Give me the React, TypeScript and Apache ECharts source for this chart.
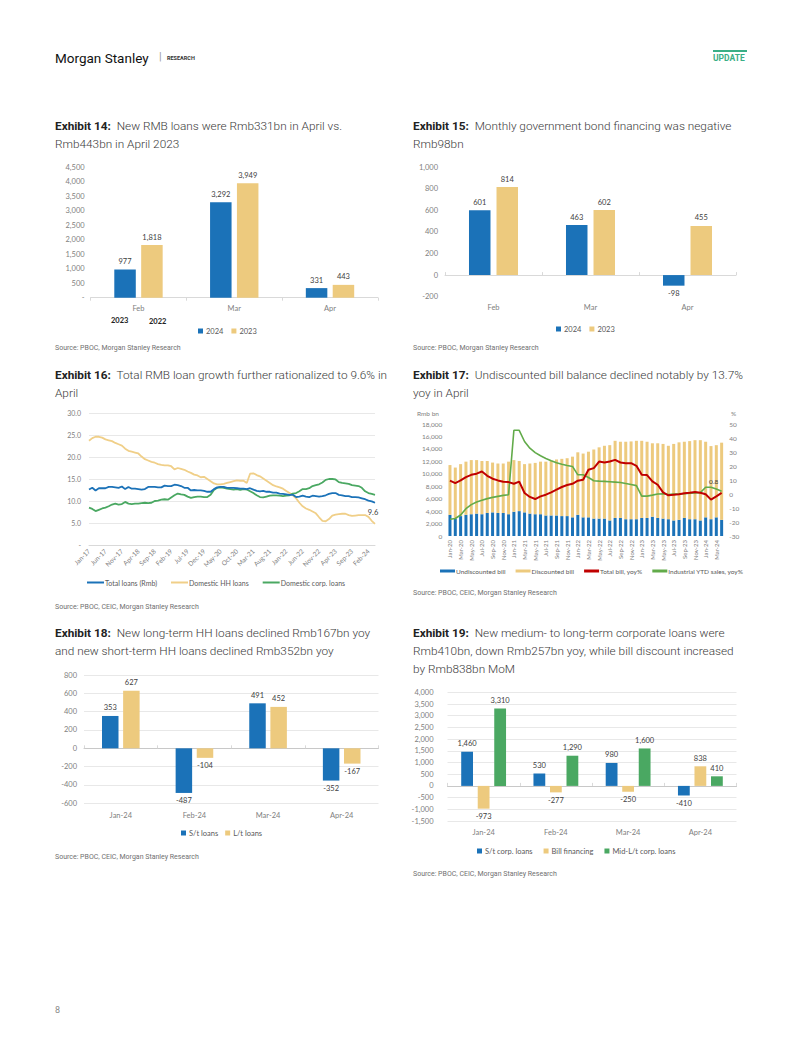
import React, { useEffect, useRef } from "react";
import * as echarts from "echarts";

const BLUE = "#1b72b8";
const GOLD = "#edca7e";
const GREEN = "#4aa862";
const RED = "#c00000";
const LGREEN = "#62ab4a";
const AXIS_GREY = "#808080";
const LINE_GREY = "#d9d9d9";
const GRID_GREY = "#e8e8e8";
const LABEL_DARK = "#404040";
const FONT = "Lato, 'Open Sans', sans-serif";
const TFONT = "Roboto, 'Open Sans', sans-serif";

// ---------- Exhibit 14 ----------
const ex14Categories = ["Feb", "Mar", "Apr"];
const ex14Y2024 = [977, 3292, 331];
const ex14Y2023 = [1818, 3949, 443];

// ---------- Exhibit 15 ----------
const ex15Categories = ["Feb", "Mar", "Apr"];
const ex15Y2024 = [601, 463, -98];
const ex15Y2023 = [814, 602, 455];

// ---------- Exhibit 16 (Jan-17 .. Apr-24, monthly) ----------
const ex16Total = [
  12.6, 13.0, 12.4, 12.9, 12.9, 12.9, 13.2, 13.2, 13.1, 13.0, 13.3, 12.7,
  13.2, 12.8, 12.8, 12.7, 12.6, 12.7, 13.2, 13.2, 13.2, 13.1, 13.1, 13.5,
  13.4, 13.4, 13.7, 13.6, 13.4, 13.0, 13.0, 12.4, 12.5, 12.4, 12.4, 12.3,
  12.1, 12.1, 12.7, 13.1, 13.2, 13.2, 13.0, 13.0, 13.0, 12.9, 12.8, 12.8,
  12.7, 12.9, 12.6, 12.3, 12.2, 12.3, 12.1, 12.1, 11.9, 11.9, 11.7, 11.6,
  11.5, 11.4, 11.4, 10.9, 11.0, 11.2, 11.0, 10.9, 11.2, 11.1, 11.0, 11.1,
  11.3, 11.6, 11.8, 11.8, 11.4, 11.3, 11.1, 11.1, 10.9, 10.9, 10.8, 10.6,
  10.4, 10.1, 9.9, 9.6,
];
const ex16Household = [
  23.7, 24.3, 24.6, 24.6, 24.4, 24.0, 23.8, 23.6, 23.2, 22.9, 22.6, 21.9,
  21.4, 21.2, 21.0, 20.8, 20.1, 19.5, 19.2, 18.9, 18.7, 18.4, 18.2, 18.1,
  18.1, 17.9, 17.2, 17.5, 17.3, 17.1, 16.7, 16.4, 16.0, 15.8, 15.4, 15.5,
  15.0, 14.5, 14.0, 13.8, 13.8, 13.9, 14.1, 14.3, 14.5, 14.7, 14.6, 14.6,
  14.1, 16.2, 16.3, 15.9, 15.6, 15.1, 14.6, 14.1, 13.6, 13.3, 13.1, 12.8,
  12.3, 11.8, 11.3, 10.6, 9.6, 8.8, 8.3, 8.0, 7.6, 7.2, 6.3, 5.5,
  5.4, 5.9, 6.7, 6.9, 7.0, 7.1, 7.1, 6.8, 6.6, 6.7, 6.8, 6.8,
  6.8, 6.4, 5.5, 4.8,
];
const ex16Corporate = [
  8.5, 8.2, 7.7, 8.0, 8.3, 8.5, 8.8, 9.2, 9.4, 9.2, 9.3, 9.8,
  9.4, 9.3, 9.4, 9.4, 9.5, 9.6, 9.5, 9.6, 10.0, 10.1, 10.3, 10.4,
  10.3, 10.8, 11.3, 11.7, 11.5, 11.4, 11.0, 10.7, 10.9, 11.0, 11.0, 10.9,
  10.9, 11.4, 12.5, 13.0, 13.1, 13.0, 12.8, 12.7, 12.6, 12.7, 12.5, 12.7,
  12.6, 12.2, 11.8, 11.3, 10.9, 10.8, 11.0, 11.2, 11.3, 11.3, 11.2, 11.1,
  11.2, 11.3, 11.7, 11.8, 12.2, 12.7, 12.7, 12.9, 13.4, 13.6, 13.8, 14.2,
  14.8, 15.0, 15.0, 14.9, 14.3, 14.1, 14.0, 13.9, 13.6, 13.5, 13.4, 13.0,
  12.2, 11.8, 11.6, 11.4,
];

// ---------- Exhibit 17 (Jan-20 .. Apr-24, monthly) ----------
const ex17Undiscounted = [
  3400, 2800, 3200, 3400, 3500, 3600, 3500, 3700, 3800, 3700, 3700, 3500,
  3900, 4000, 3800, 3600, 3500, 3500, 3300, 3300, 3300, 3200, 3200, 3000,
  3400, 3000, 3000, 2800, 2800, 2800, 2500, 2900, 2900, 2700, 2700, 2700,
  2900, 2900, 3100, 2900, 2800, 2700, 2500, 2600, 2900, 2700, 2700, 2500,
  3000, 2700, 3000, 2600,
];
const ex17Discounted = [
  8000, 8200, 8350, 8550, 8700, 8600, 8550, 8350, 8000, 7950, 7950, 8450,
  8300, 8050, 7750, 8050, 8250, 8450, 8650, 8800, 9000, 9200, 9300, 9750,
  10050, 10250, 10550, 11100, 11450, 11700, 12100, 12400, 12250, 12450, 12500, 12600,
  12400, 12250, 11800, 12000, 12000, 11800, 12300, 12450, 12250, 12550, 12700, 12900,
  12150, 11750, 11600, 12400,
];
const ex17TotalBillYoy = [
  9.5, 7.8, 9.7, 12.1, 13.7, 14.5, 16.1, 13.0, 10.9, 9.7, 8.8, 8.5,
  7.3, 8.8, 0.7, -2.1, -3.6, -1.7, -0.5, 1.2, 3.1, 5.0, 6.4, 7.3,
  9.5, 10.2, 17.3, 18.5, 23.2, 22.5, 23.2, 24.4, 22.5, 22.0, 22.0, 20.1,
  13.7, 13.5, 9.0, 6.6, 1.2, -0.9, -0.5, -0.2, 0.5, 0.9, 1.4, 0.9,
  -0.2, -4.0, -1.7, 0.8,
];
const ex17IndustrialSalesYoy = [
  -18.0, -17.5, -15.0, -10.5, -7.6, -5.7, -4.5, -3.3, -2.4, -1.7, -1.0, -0.5,
  45.5, 45.5, 37.5, 32.7, 29.6, 27.3, 25.4, 23.7, 22.3, 21.3, 20.4, 19.7,
  13.7, 13.7, 11.8, 9.5, 9.2, 9.0, 8.8, 8.5, 8.2, 7.5, 6.8, 6.0,
  -1.5, -1.5, -0.8, 0.0, 0.2, -0.4, 0.0, 0.0, 0.2, 0.5, 0.8, 1.0,
  4.8, 4.8, 3.6, 2.0,
];

// ---------- Exhibit 18 ----------
const ex18Categories = ["Jan-24", "Feb-24", "Mar-24", "Apr-24"];
const ex18ShortTerm = [353, -487, 491, -352];
const ex18LongTerm = [627, -104, 452, -167];

// ---------- Exhibit 19 ----------
const ex19Categories = ["Jan-24", "Feb-24", "Mar-24", "Apr-24"];
const ex19ShortTermCorp = [1460, 530, 980, -410];
const ex19BillFinancing = [-973, -277, -250, 838];
const ex19MidLongCorp = [3310, 1290, 1600, 410];

const MONTH_NAMES = ["Jan", "Feb", "Mar", "Apr", "May", "Jun", "Jul", "Aug", "Sep", "Oct", "Nov", "Dec"];
function monthLabels(startYear: number, count: number): string[] {
  const out: string[] = [];
  for (let i = 0; i < count; i++) {
    const y = startYear + Math.floor(i / 12);
    out.push(`${MONTH_NAMES[i % 12]}-${String(y).slice(2)}`);
  }
  return out;
}
const ex16Months = monthLabels(2017, ex16Total.length);
const ex17Months = monthLabels(2020, ex17Undiscounted.length);

const fmt = (v: number) => v.toLocaleString("en-US");

function barData(vals: number[]) {
  return vals.map((v) => ({ value: v, label: { position: v < 0 ? "bottom" : "top" } }));
}

function barSeries(name: string, vals: number[], color: string, xi: number, yi: number, barWidth: number, barGap: string) {
  return {
    type: "bar",
    name,
    data: barData(vals),
    xAxisIndex: xi,
    yAxisIndex: yi,
    barWidth,
    barGap,
    itemStyle: { color },
    label: {
      show: true,
      formatter: (p: any) => fmt(p.value),
      color: LABEL_DARK,
      fontSize: 7.5,
      fontFamily: FONT,
      distance: 4,
    },
  };
}

function endMark(categories: string[], values: number[], position: string, offset: number[], fontSize: number) {
  const last = values.length - 1;
  return {
    symbol: "circle",
    symbolSize: 1,
    silent: true,
    itemStyle: { color: "rgba(0,0,0,0)" },
    label: {
      show: true,
      position,
      distance: 5,
      offset,
      formatter: (p: any) => String(p.value),
      color: LABEL_DARK,
      fontSize,
      fontFamily: FONT,
    },
    data: [{ coord: [categories[last], values[last]], value: values[last] }],
  };
}

function valAxis(gridIndex: number, min: number, max: number, interval: number, formatter: any, extra: any = {}) {
  return {
    type: "value",
    gridIndex,
    min,
    max,
    interval,
    axisLine: { show: false },
    axisTick: { show: false },
    splitLine: { show: false },
    axisLabel: { color: AXIS_GREY, fontSize: 7.5, fontFamily: FONT, margin: 6, formatter },
    ...extra,
  };
}

function catAxis(gridIndex: number, data: string[], extra: any = {}) {
  return {
    type: "category",
    gridIndex,
    data,
    axisLine: { show: true, lineStyle: { color: LINE_GREY } },
    axisTick: { show: true, length: 3, lineStyle: { color: LINE_GREY } },
    axisLabel: { color: AXIS_GREY, fontSize: 7.5, fontFamily: FONT, margin: 7 },
    ...extra,
  };
}

function exhibitTitle(left: number, top: number, text: string) {
  return {
    left,
    top,
    padding: 0,
    text,
    textStyle: {
      fontFamily: TFONT,
      fontSize: 11.8,
      fontWeight: 300,
      color: "#3a3a3a",
      lineHeight: 18,
      rich: {
        b: { fontFamily: TFONT, fontSize: 11.8, fontWeight: "bold", color: "#222222", lineHeight: 18 },
      },
    },
  };
}

function note(left: number, top: number, text: string, size = 7, color = "#707070", weight: any = "normal", family = TFONT) {
  return {
    left,
    top,
    padding: 0,
    text,
    textStyle: { fontFamily: family, fontSize: size, fontWeight: weight, color, lineHeight: size * 1.2 },
  };
}

function squareLegend(names: string[], left: number, top: number, gap: number) {
  return {
    data: names,
    left,
    top,
    padding: 0,
    icon: "rect",
    itemWidth: 5,
    itemHeight: 5,
    itemGap: gap,
    selectedMode: false,
    textStyle: { color: "#595959", fontSize: 7.5, fontFamily: FONT, padding: [0, 0, 0, -2] },
  };
}

function buildOption() {
  const zeroFmt = (v: number) => (v === 0 ? "-" : fmt(v));
  const plainFmt = (v: number) => fmt(v);

  return {
    animation: false,
    backgroundColor: "#ffffff",
    title: [
      // header
      note(55, 50, "Morgan Stanley", 13.5, "#111111", "normal", TFONT),
      note(159, 50, "|", 11, "#9a9a9a"),
      note(167, 54.5, "RESEARCH", 5.5, "#333333", "bold", TFONT),
      note(713, 53, "UPDATE", 8.5, "#3aae86", "bold", TFONT),
      note(55, 1005, "8", 9, "#8a8a8a"),
      // exhibit titles
      exhibitTitle(55, 117, "{b|Exhibit 14:}  New RMB loans were Rmb331bn in April vs.\nRmb443bn in April 2023"),
      exhibitTitle(413, 117, "{b|Exhibit 15:}  Monthly government bond financing was negative\nRmb98bn"),
      exhibitTitle(55, 366, "{b|Exhibit 16:}  Total RMB loan growth further rationalized to 9.6% in\nApril"),
      exhibitTitle(413, 366, "{b|Exhibit 17:}  Undiscounted bill balance declined notably by 13.7%\nyoy in April"),
      exhibitTitle(55, 624, "{b|Exhibit 18:}  New long-term HH loans declined Rmb167bn yoy\nand new short-term HH loans declined Rmb352bn yoy"),
      exhibitTitle(413, 624, "{b|Exhibit 19:}  New medium- to long-term corporate loans were\nRmb410bn, down Rmb257bn yoy, while bill discount increased\nby Rmb838bn MoM"),
      // sources
      note(55, 344, "Source: PBOC, Morgan Stanley Research"),
      note(413, 344, "Source: PBOC, Morgan Stanley Research"),
      note(55, 603, "Source: PBOC, CEIC, Morgan Stanley Research"),
      note(413, 589, "Source: PBOC, CEIC, Morgan Stanley Research"),
      note(55, 853, "Source: PBOC, CEIC, Morgan Stanley Research"),
      note(413, 870, "Source: PBOC, CEIC, Morgan Stanley Research"),
      // exhibit 14 annotations
      note(111, 316, "2023", 7.5, "#222222", "bold", FONT),
      note(149, 317, "2022", 7.5, "#222222", "bold", FONT),
      // exhibit 17 axis names
      note(417, 410, "Rmb bn", 6.5, AXIS_GREY, "normal", FONT),
      note(731, 410, "%", 6.5, AXIS_GREY, "normal", FONT),
    ],
    graphic: [
      { type: "rect", shape: { x: 713, y: 50, width: 34, height: 2 }, style: { fill: "#3aae86" } },
    ],
    grid: [
      { left: 90.6, top: 167.3, width: 287.3, height: 130.4 },
      { left: 445, top: 167, width: 291, height: 129.7 },
      { left: 89, top: 413, width: 286, height: 132 },
      { left: 447.3, top: 424, width: 277, height: 112 },
      { left: 84, top: 675, width: 294.5, height: 128.3 },
      { left: 447.5, top: 692.3, width: 289, height: 128.7 },
    ],
    xAxis: [
      catAxis(0, ex14Categories),
      catAxis(1, ex15Categories, {
        axisLine: { show: false, onZero: false },
        axisTick: { show: false },
        axisLabel: { color: AXIS_GREY, fontSize: 7.5, fontFamily: FONT, margin: 7 },
      }),
      catAxis(1, ex15Categories, { axisLabel: { show: false }, axisLine: { show: true, onZero: true, lineStyle: { color: LINE_GREY } } }),
      {
        type: "category",
        gridIndex: 2,
        data: ex16Months,
        boundaryGap: false,
        axisLine: { show: true, lineStyle: { color: LINE_GREY } },
        axisTick: { show: false },
        axisLabel: { color: AXIS_GREY, fontSize: 6.5, fontFamily: FONT, rotate: 45, interval: 4, margin: 5 },
      },
      {
        type: "category",
        gridIndex: 3,
        data: ex17Months,
        axisLine: { show: false },
        axisTick: { show: false },
        axisLabel: { color: AXIS_GREY, fontSize: 6, fontFamily: FONT, rotate: 90, interval: 1, margin: 4 },
      },
      catAxis(4, ex18Categories, {
        axisLine: { show: false, onZero: false },
        axisTick: { show: false },
        axisLabel: { color: AXIS_GREY, fontSize: 7.5, fontFamily: FONT, margin: 8 },
      }),
      catAxis(4, ex18Categories, { axisLabel: { show: false }, axisLine: { show: true, onZero: true, lineStyle: { color: "#c8c8c8" } } }),
      catAxis(5, ex19Categories, {
        axisLine: { show: false, onZero: false },
        axisTick: { show: false },
        axisLabel: { color: AXIS_GREY, fontSize: 7.5, fontFamily: FONT, margin: 7 },
      }),
      catAxis(5, ex19Categories, { axisLabel: { show: false }, axisLine: { show: true, onZero: true, lineStyle: { color: "#c8c8c8" } } }),
    ],
    yAxis: [
      valAxis(0, 0, 4500, 500, zeroFmt),
      valAxis(1, -200, 1000, 200, plainFmt, { axisLabel: { color: AXIS_GREY, fontSize: 7.5, fontFamily: FONT, margin: 7, formatter: plainFmt } }),
      valAxis(2, 0, 30, 5, (v: number) => (v === 0 ? "-" : v.toFixed(1)), {
        splitLine: { show: true, lineStyle: { color: GRID_GREY } },
        axisLabel: { color: AXIS_GREY, fontSize: 7, fontFamily: FONT, margin: 8, formatter: (v: number) => (v === 0 ? "-" : v.toFixed(1)) },
      }),
      valAxis(3, 0, 18000, 2000, plainFmt, { axisLabel: { color: AXIS_GREY, fontSize: 6.5, fontFamily: FONT, margin: 5, formatter: plainFmt } }),
      valAxis(3, -30, 50, 10, plainFmt, { position: "right", axisLabel: { color: AXIS_GREY, fontSize: 6.5, fontFamily: FONT, margin: 5, formatter: plainFmt } }),
      valAxis(4, -600, 800, 200, plainFmt, {
        splitLine: { show: true, lineStyle: { color: GRID_GREY } },
        axisLabel: { color: AXIS_GREY, fontSize: 7.5, fontFamily: FONT, margin: 7, formatter: plainFmt },
      }),
      valAxis(5, -1500, 4000, 500, plainFmt, {
        splitLine: { show: true, lineStyle: { color: GRID_GREY } },
        axisLabel: { color: AXIS_GREY, fontSize: 7.5, fontFamily: FONT, margin: 14, formatter: plainFmt },
      }),
    ],
    legend: [
      squareLegend(["2024", "2023"], 198, 327, 8),
      squareLegend(["2024", "2023"], 556, 325, 8),
      {
        data: ["Total loans (Rmb)", "Domestic HH loans", "Domestic corp. loans"],
        left: 87,
        top: 579,
        padding: 0,
        icon: "rect",
        itemWidth: 17,
        itemHeight: 2,
        itemGap: 14,
        selectedMode: false,
        textStyle: { color: "#595959", fontSize: 7, fontFamily: FONT, padding: [0, 0, 0, -4] },
      },
      {
        data: ["Undiscounted bill", "Discounted bill", "Total bill, yoy%", "Industrial YTD sales, yoy%"],
        left: 440,
        top: 567.5,
        padding: 0,
        icon: "rect",
        itemWidth: 15,
        itemHeight: 3,
        itemGap: 10,
        selectedMode: false,
        textStyle: { color: "#595959", fontSize: 6.5, fontFamily: FONT, padding: [0, 0, 0, -4] },
      },
      squareLegend(["S/t loans", "L/t loans"], 181, 829, 7),
      squareLegend(["S/t corp. loans", "Bill financing", "Mid-L/t corp. loans"], 477, 847, 11),
    ],
    series: [
      // Exhibit 14
      barSeries("2024", ex14Y2024, BLUE, 0, 0, 21.5, "25%"),
      barSeries("2023", ex14Y2023, GOLD, 0, 0, 21.5, "25%"),
      // Exhibit 15
      barSeries("2024", ex15Y2024, BLUE, 1, 1, 21.5, "28%"),
      barSeries("2023", ex15Y2023, GOLD, 1, 1, 21.5, "28%"),
      // Exhibit 16
      {
        type: "line",
        name: "Total loans (Rmb)",
        xAxisIndex: 3,
        yAxisIndex: 2,
        showSymbol: false,
        symbol: "none",
        data: ex16Total,
        lineStyle: { color: BLUE, width: 1.8 },
        itemStyle: { color: BLUE },
        markPoint: endMark(ex16Months, ex16Total, "bottom", [-2, 0], 7.5),
        z: 4,
      },
      {
        type: "line",
        name: "Domestic HH loans",
        xAxisIndex: 3,
        yAxisIndex: 2,
        showSymbol: false,
        symbol: "none",
        data: ex16Household,
        lineStyle: { color: "#f0cf88", width: 1.8 },
        itemStyle: { color: "#f0cf88" },
        z: 2,
      },
      {
        type: "line",
        name: "Domestic corp. loans",
        xAxisIndex: 3,
        yAxisIndex: 2,
        showSymbol: false,
        symbol: "none",
        data: ex16Corporate,
        lineStyle: { color: GREEN, width: 1.8 },
        itemStyle: { color: GREEN },
        z: 3,
      },
      // Exhibit 17
      {
        type: "bar",
        name: "Undiscounted bill",
        xAxisIndex: 4,
        yAxisIndex: 3,
        stack: "bill",
        barWidth: 3,
        data: ex17Undiscounted,
        itemStyle: { color: BLUE },
      },
      {
        type: "bar",
        name: "Discounted bill",
        xAxisIndex: 4,
        yAxisIndex: 3,
        stack: "bill",
        barWidth: 3,
        data: ex17Discounted,
        itemStyle: { color: GOLD },
      },
      {
        type: "line",
        name: "Total bill, yoy%",
        xAxisIndex: 4,
        yAxisIndex: 4,
        showSymbol: false,
        symbol: "none",
        data: ex17TotalBillYoy,
        lineStyle: { color: RED, width: 2 },
        itemStyle: { color: RED },
        markPoint: endMark(ex17Months, ex17TotalBillYoy, "top", [-8, -2], 6.5),
        z: 4,
      },
      {
        type: "line",
        name: "Industrial YTD sales, yoy%",
        xAxisIndex: 4,
        yAxisIndex: 4,
        showSymbol: false,
        symbol: "none",
        data: ex17IndustrialSalesYoy,
        lineStyle: { color: LGREEN, width: 1.6 },
        itemStyle: { color: LGREEN },
        z: 3,
      },
      // Exhibit 18
      barSeries("S/t loans", ex18ShortTerm, BLUE, 5, 5, 16.5, "28%"),
      barSeries("L/t loans", ex18LongTerm, GOLD, 5, 5, 16.5, "28%"),
      // Exhibit 19
      barSeries("S/t corp. loans", ex19ShortTermCorp, BLUE, 7, 6, 11.8, "40%"),
      barSeries("Bill financing", ex19BillFinancing, GOLD, 7, 6, 11.8, "40%"),
      barSeries("Mid-L/t corp. loans", ex19MidLongCorp, GREEN, 7, 6, 11.8, "40%"),
    ],
  };
}

export default function App() {
  const ref = useRef<HTMLDivElement>(null);
  useEffect(() => {
    if (!ref.current) return;
    const chart = echarts.init(ref.current, undefined, { renderer: "svg" });
    chart.setOption(buildOption() as any);
    return () => chart.dispose();
  }, []);
  return (
    <div
      ref={ref}
      style={{ position: "absolute", left: 0, top: 0, width: 802, height: 1037, background: "#ffffff" }}
    />
  );
}
